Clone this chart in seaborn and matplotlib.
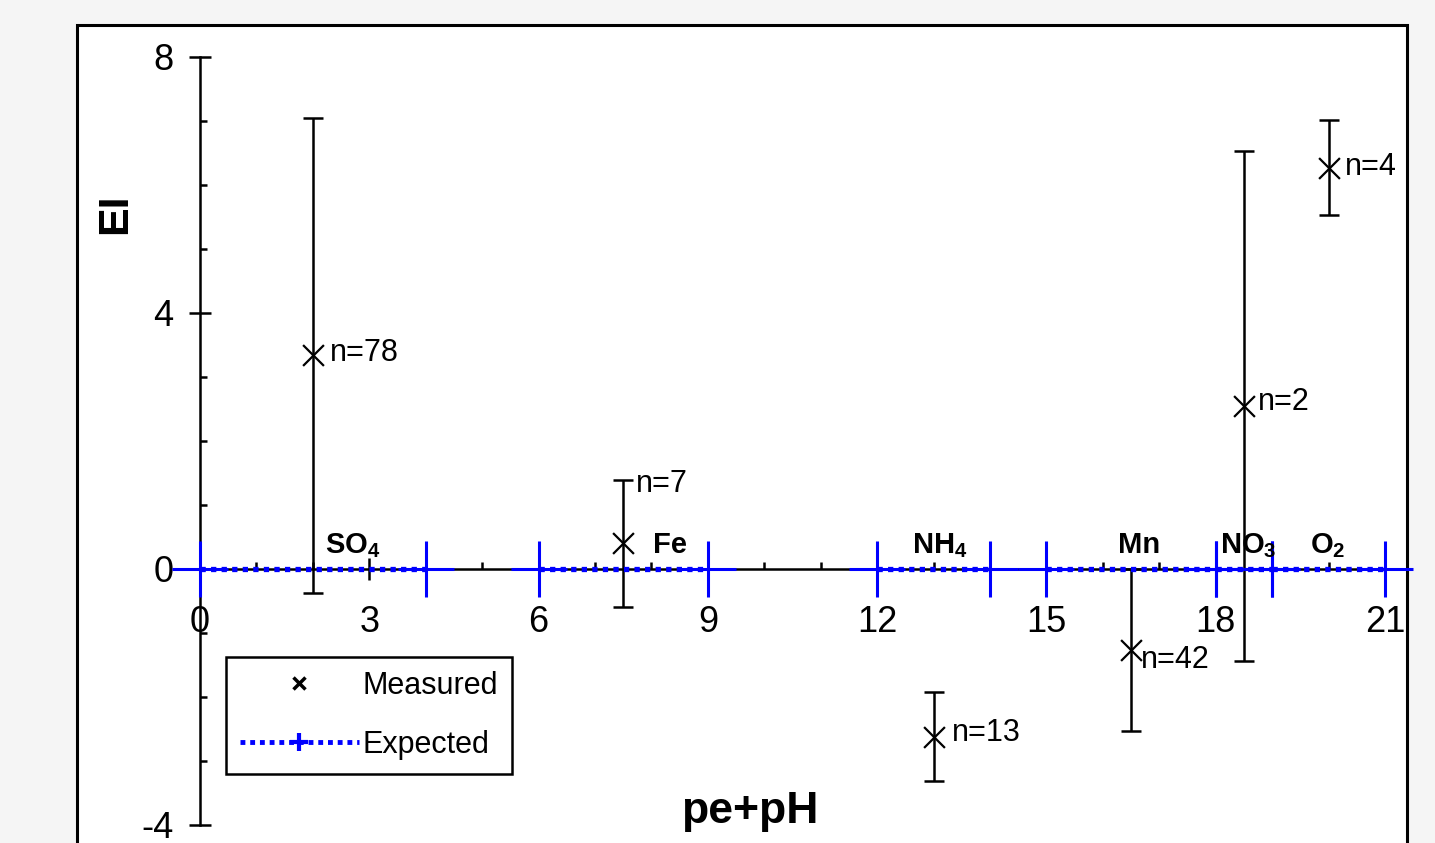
import numpy as np
import pandas as pd
import seaborn as sns
import matplotlib
matplotlib.use("Agg")
import matplotlib.pyplot as plt
from matplotlib.lines import Line2D
from matplotlib.patches import Rectangle
from matplotlib.ticker import MultipleLocator, FixedLocator

# ---------------- data ----------------
species = ["SO4", "Fe", "NH4", "Mn", "NO3", "O2"]
species_labels = [r"SO$_\mathbf{4}$", "Fe", r"NH$_\mathbf{4}$", "Mn",
                  r"NO$_\mathbf{3}$", r"O$_\mathbf{2}$"]
expected_low = [0, 6, 12, 15, 18, 19]
expected_high = [4, 9, 14, 18, 19, 21]
measured_x = [2.0, 7.5, 13.0, 16.5, 18.5, 20.0]
measured_y = [3.35, 0.41, -2.62, -1.27, 2.55, 6.27]
measured_hi = [7.05, 1.39, -1.92, 0.0, 6.53, 7.02]
measured_lo = [-0.38, -0.59, -3.31, -2.53, -1.44, 5.53]
n_labels = ["n=78", "n=7", "n=13", "n=42", "n=2", "n=4"]
x_ticks = [0, 3, 6, 9, 12, 15, 18, 21]
y_ticks = [-4, 0, 4, 8]

# label placement (data coords)
species_pos = [(2.21, 0.25), (8.03, 0.25), (12.62, 0.25), (16.27, 0.25),
               (18.08, 0.25), (19.67, 0.25)]
n_pos = [(2.30, 3.38), (7.73, 1.33), (13.33, -2.56), (16.68, -1.42),
         (18.75, 2.61), (20.29, 6.28)]

# ---------------- style ----------------
sns.set_theme(style="white")
plt.rcParams["font.family"] = ["Liberation Sans", "DejaVu Sans"]
plt.rcParams["mathtext.fontset"] = "custom"
plt.rcParams["mathtext.rm"] = "Liberation Sans"
plt.rcParams["mathtext.bf"] = "Liberation Sans:bold"
plt.rcParams["text.color"] = "black"

W, H = 1435, 843
fig = plt.figure(figsize=(W / 100, H / 100), dpi=100)
fig.patch.set_facecolor("#f5f5f5")
panel = Rectangle((77 / W, -0.1), (1407 - 77) / W, (H - 25) / H + 0.1,
                  transform=fig.transFigure, facecolor="white",
                  edgecolor="black", linewidth=2.2, zorder=-5)
fig.patches.append(panel)

ax = fig.add_axes([200 / W, (H - 825) / H, (1385 - 200) / W, (825 - 57) / H])
ax.set_zorder(1)
ax.patch.set_alpha(0)
ax.set_xlim(0, 21)
ax.set_ylim(-4, 8)

for s in ["top", "right"]:
    ax.spines[s].set_visible(False)
ax.spines["bottom"].set_position(("data", 0))
ax.spines["left"].set_linewidth(1.8)
ax.spines["bottom"].set_linewidth(1.8)
ax.spines["left"].set_color("black")
ax.spines["bottom"].set_color("black")

ax.xaxis.set_major_locator(FixedLocator(x_ticks))
ax.xaxis.set_minor_locator(MultipleLocator(1))
ax.yaxis.set_major_locator(FixedLocator(y_ticks))
ax.yaxis.set_minor_locator(MultipleLocator(1))
ax.tick_params(axis="both", which="major", direction="inout", length=16,
               width=1.8, labelsize=26, colors="black")
ax.tick_params(axis="x", which="major", pad=18)
ax.tick_params(axis="y", which="major", pad=11)
ax.tick_params(axis="both", which="minor", direction="in", length=5,
               width=1.8, colors="black")
ax.tick_params(axis="both", which="both", bottom=True, left=True)
ax.set_xticklabels([str(v) for v in x_ticks])
ax.set_yticklabels([str(v) for v in y_ticks])

# ---------------- measured ----------------
mdf = pd.DataFrame({"x": measured_x, "y": measured_y})
yerr = np.array([np.array(measured_y) - np.array(measured_lo),
                 np.array(measured_hi) - np.array(measured_y)])
ax.errorbar(measured_x, measured_y, yerr=yerr, fmt="none", ecolor="black",
            elinewidth=1.8, capsize=7, capthick=1.8, zorder=3)
sns.scatterplot(data=mdf, x="x", y="y", marker="x", s=15 ** 2, color="black",
                linewidth=1.6, ax=ax, zorder=5, legend=False)

# ---------------- expected ----------------
for lo, hi in zip(expected_low, expected_high):
    ax.plot([lo, hi], [0, 0], color="#0000ff", linestyle=(0, (1, 1)),
            linewidth=3.8, clip_on=False, zorder=4)
edf = pd.DataFrame({"x": expected_low + expected_high,
                    "y": [0] * (2 * len(expected_low))})
sns.scatterplot(data=edf, x="x", y="y", marker="+", s=40 ** 2,
                color="#0000ff", linewidth=2.2, ax=ax, zorder=4, legend=False)
for coll in ax.collections:
    coll.set_clip_on(False)

# ---------------- annotations ----------------
for lab, (px, py) in zip(species_labels, species_pos):
    ax.text(px, py, lab, fontsize=21, fontweight="bold", ha="left",
            va="baseline", color="black", zorder=6)
for lab, (px, py) in zip(n_labels, n_pos):
    ax.text(px, py, lab, fontsize=22, ha="left", va="center", color="black",
            zorder=6)

ax.set_xlabel("")
ax.set_ylabel("")
fig.text(750 / W, 1 - 812 / H, "pe+pH", fontsize=32, fontweight="bold",
         ha="center", va="center", color="black")
fig.text(115 / W, 1 - 214 / H, "EI", fontsize=31, fontweight="bold",
         rotation=90, ha="center", va="center", color="black")

# ---------------- legend ----------------
h_meas = Line2D([], [], marker="x", linestyle="none", color="black",
                markersize=8, markeredgewidth=2.5)
h_exp = Line2D([], [], color="#0000ff", linestyle=(0, (1, 1)), linewidth=3.5,
               marker="+", markersize=13, markeredgewidth=3)
leg = ax.legend([h_meas, h_exp], ["Measured", "Expected"],
                loc="upper left", bbox_to_anchor=(226 / W, 1 - 657 / H),
                bbox_transform=fig.transFigure, fontsize=22, frameon=True,
                fancybox=False, shadow=False, handlelength=3.9,
                handletextpad=0.12, labelspacing=0.95, borderpad=0.45,
                borderaxespad=0)
leg.get_frame().set_edgecolor("black")
leg.get_frame().set_linewidth(1.8)
leg.get_frame().set_facecolor("white")
leg.get_frame().set_alpha(1)

fig.savefig("out.png", dpi=100, facecolor=fig.get_facecolor())
